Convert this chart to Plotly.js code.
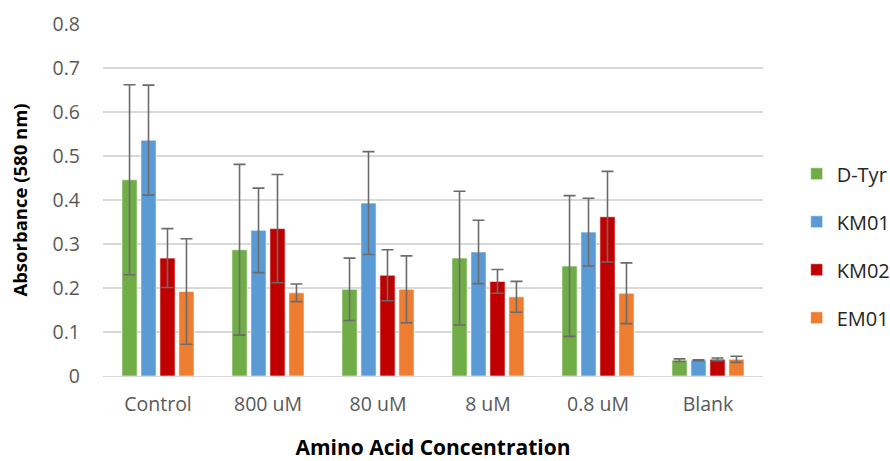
<!DOCTYPE html>
<html><head><meta charset="utf-8">
<script src="https://cdn.plot.ly/plotly-3.0.1.min.js"></script>
<style>html,body{margin:0;padding:0;background:#fff}#chart{width:890px;height:461px}</style>
</head><body><div id="chart"></div>
<script>
const categories = ["Control", "800 uM", "80 uM", "8 uM", "0.8 uM", "Blank"];
const seriesNames = ["D-Tyr", "KM01", "KM02", "EM01"];
const dTyr = [0.446, 0.287, 0.197, 0.268, 0.250, 0.036];
const dTyrErr = [0.216, 0.194, 0.071, 0.152, 0.160, 0.003];
const km01 = [0.536, 0.331, 0.393, 0.282, 0.327, 0.036];
const km01Err = [0.125, 0.096, 0.117, 0.072, 0.077, 0.001];
const km02 = [0.268, 0.335, 0.229, 0.215, 0.362, 0.038];
const km02Err = [0.067, 0.123, 0.058, 0.027, 0.103, 0.003];
const em01 = [0.192, 0.189, 0.197, 0.180, 0.188, 0.038];
const em01Err = [0.120, 0.020, 0.076, 0.035, 0.069, 0.007];
const colors = ["#70AD47", "#5B9BD5", "#C00000", "#ED7D31"];

const vals = [dTyr, km01, km02, em01];
const errs = [dTyrErr, km01Err, km02Err, em01Err];
const data = seriesNames.map((n, i) => ({
  type: "bar", name: n, x: categories, y: vals[i],
  legendgroup: "g" + i,
  marker: {color: colors[i], line: {color: "rgba(255,255,255,0.6)", width: 1}},
  error_y: {type: "data", array: errs[i], visible: true, color: "#6b6b6b", thickness: 1.6, width: 6},
  hoverinfo: "y"
}));

const layout = {
  width: 890, height: 461,
  margin: {l: 103, r: 127, t: 24, b: 85, autoexpand: false},
  paper_bgcolor: "#fff", plot_bgcolor: "#fff",
  barmode: "group", bargap: 0.31, bargroupgap: 0.2,
  font: {family: "Open Sans, sans-serif", size: 19, color: "#595959"},
  xaxis: {
    tickfont: {size: 19.5, color: "#595959"},
    showline: true, linecolor: "#d9d9d9", linewidth: 1,
    ticks: "", ticklen: 0, ticklabelstandoff: 11,
    title: {text: "<b>Amino Acid Concentration</b>", font: {size: 21, color: "#000"}, standoff: 28}
  },
  yaxis: {
    range: [0, 0.8], dtick: 0.1, tickformat: ".1~f",
    showgrid: true, gridcolor: "#d9d9d9", gridwidth: 1.5,
    zeroline: false, ticks: "", ticklabelstandoff: 22,
    tickfont: {size: 19.5, color: "#595959"},
    title: {text: "<b>Absorbance (580 nm)</b>", font: {size: 18.5, color: "#000"}, standoff: 20}
  },
  legend: {
    x: 1.051, xanchor: "left", y: 0.37, yanchor: "middle",
    font: {size: 20, color: "#262626"},
    traceorder: "grouped", tracegroupgap: 19,
    itemwidth: 30
  },
  showlegend: true
};
Plotly.newPlot("chart", data, layout, {displayModeBar: false, staticPlot: true});
</script></body></html>
